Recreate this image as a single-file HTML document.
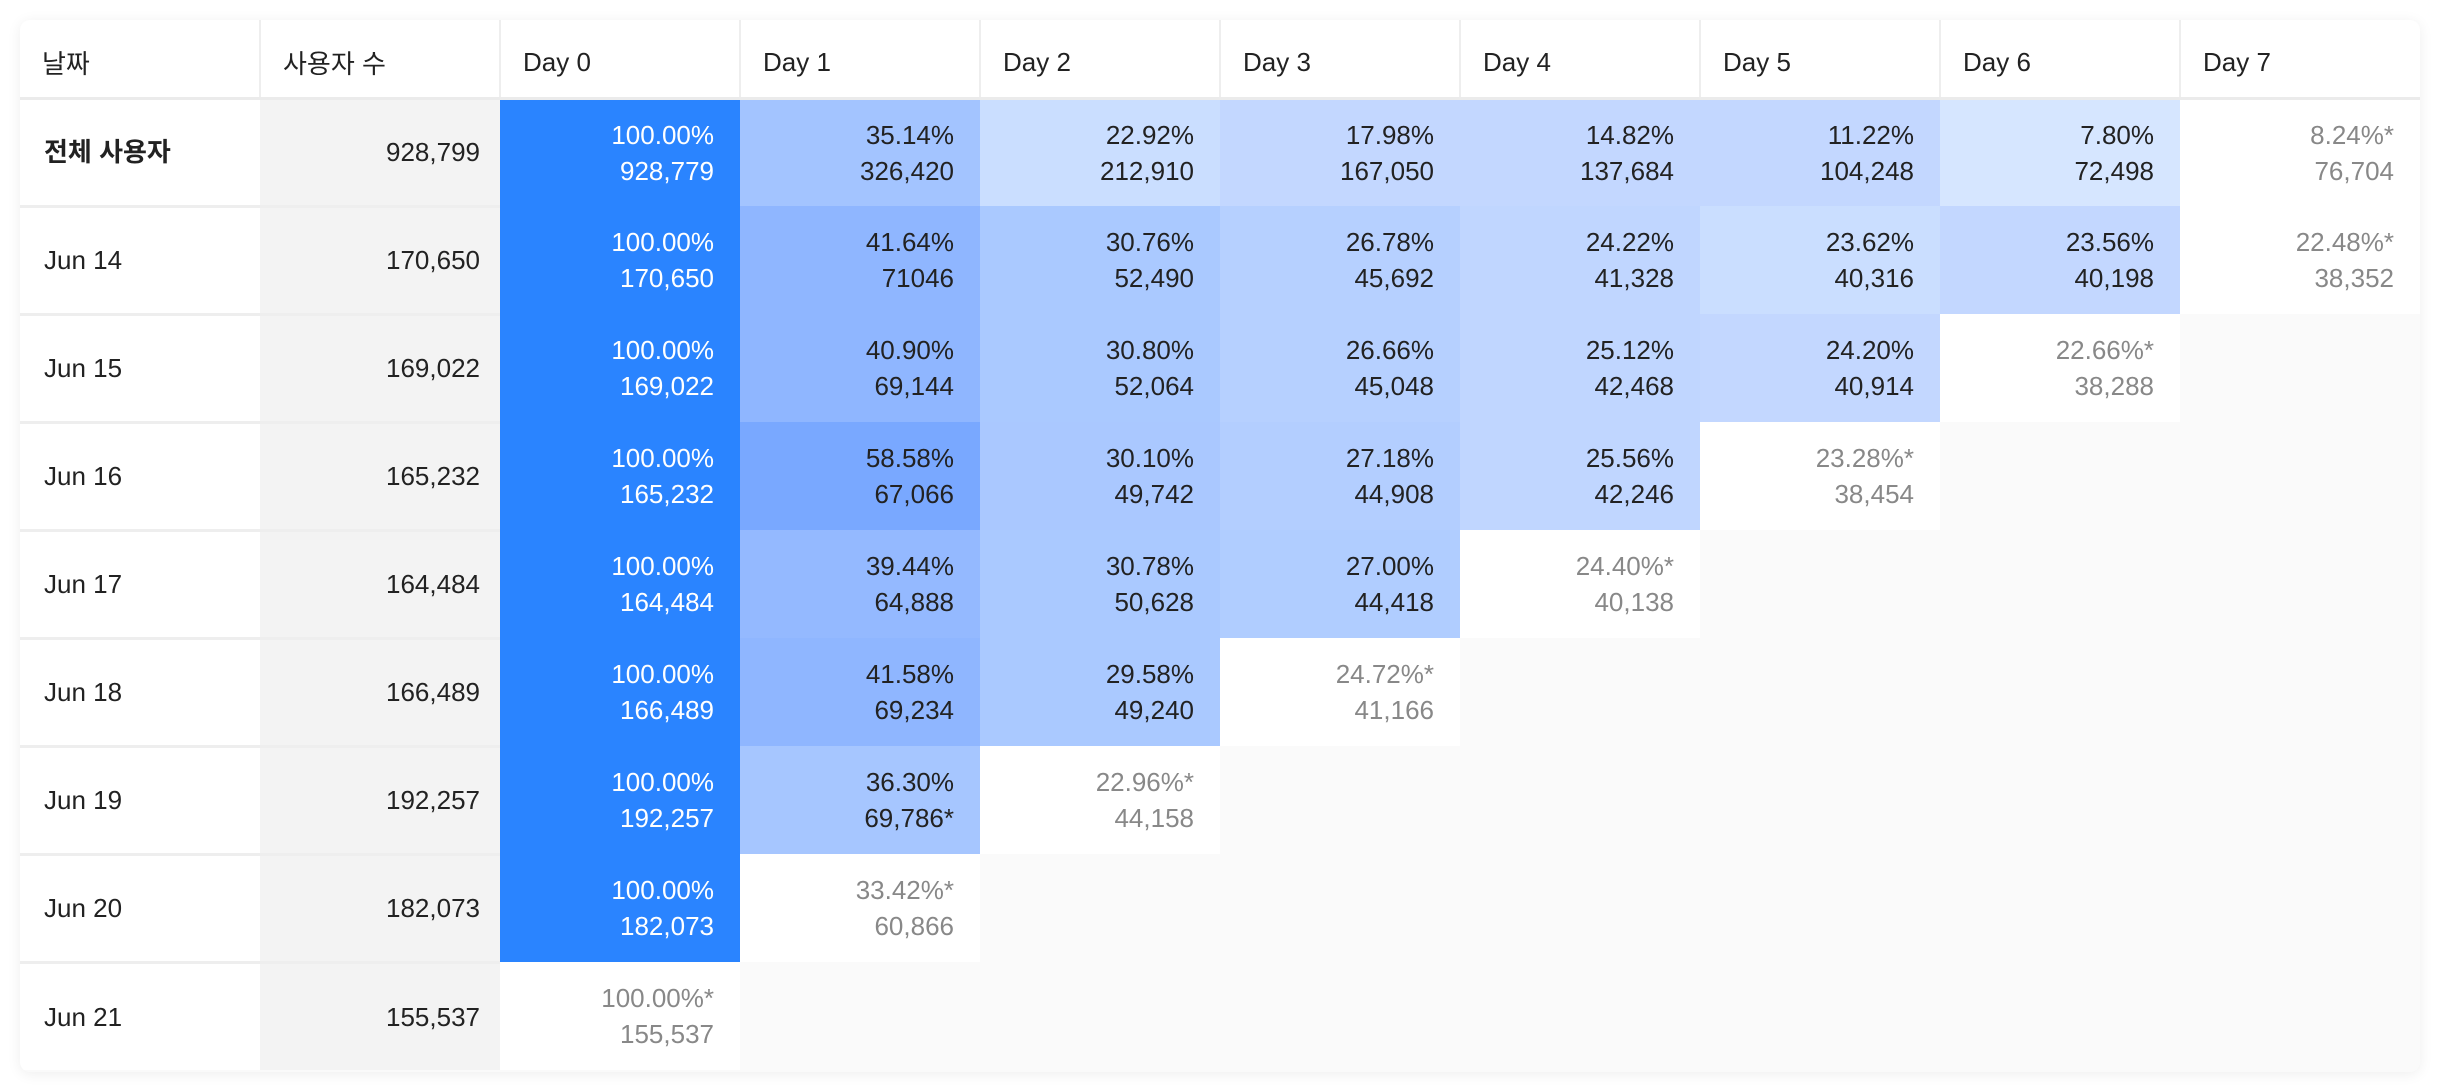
<!DOCTYPE html>
<html><head><meta charset="utf-8"><style>
html,body{margin:0;padding:0;background:#fff;width:2440px;height:1092px;overflow:hidden}
.card{position:absolute;left:20px;top:20px;width:2400px;height:1052px;background:#fafafa;border-radius:10px;box-shadow:0 2px 14px rgba(0,0,0,0.07);overflow:hidden}
table{border-collapse:collapse;table-layout:fixed;font-family:"Liberation Sans","Noto Sans CJK KR",sans-serif;font-size:26px;color:#222}
td,th{width:240px;padding:0;box-sizing:border-box}
th{height:78px;background:#fff;text-align:left;font-weight:normal;padding-left:22px;padding-top:8px;border-right:2px solid #eee;border-bottom:3px solid #ebebeb}
th:last-child{border-right:none}
tr.r td{height:108px}
td{text-align:right;padding-right:26px;line-height:36px}
td.d{text-align:left;padding-left:24px;background:#fff;border-bottom:3px solid #eee}
td.n{background:#f3f3f3;border-bottom:3px solid #eee;padding-right:20px}
td.b{font-weight:bold}
td.z{background:#2a84ff;color:#fff}
td.w{background:#fff;color:#888}
td.e{background:#fafafa}
</style></head><body><div class="card"><table>
<tr><th>날짜</th><th>사용자 수</th><th>Day 0</th><th>Day 1</th><th>Day 2</th><th>Day 3</th><th>Day 4</th><th>Day 5</th><th>Day 6</th><th>Day 7</th></tr>
<tr class="r"><td class="d b">전체 사용자</td><td class="n">928,799</td><td class="z">100.00%<br>928,779</td><td style="background:#a3c4ff">35.14%<br>326,420</td><td style="background:#cadeff">22.92%<br>212,910</td><td style="background:#c3d7ff">17.98%<br>167,050</td><td style="background:#c3d7ff">14.82%<br>137,684</td><td style="background:#c3d7ff">11.22%<br>104,248</td><td style="background:#d6e6ff">7.80%<br>72,498</td><td class="w">8.24%*<br>76,704</td></tr>
<tr class="r"><td class="d">Jun 14</td><td class="n">170,650</td><td class="z">100.00%<br>170,650</td><td style="background:#8fb6ff">41.64%<br>71046</td><td style="background:#aac9ff">30.76%<br>52,490</td><td style="background:#b6d0ff">26.78%<br>45,692</td><td style="background:#c0d6ff">24.22%<br>41,328</td><td style="background:#cadeff">23.62%<br>40,316</td><td style="background:#c3d7ff">23.56%<br>40,198</td><td class="w">22.48%*<br>38,352</td></tr>
<tr class="r"><td class="d">Jun 15</td><td class="n">169,022</td><td class="z">100.00%<br>169,022</td><td style="background:#8fb6ff">40.90%<br>69,144</td><td style="background:#aac9ff">30.80%<br>52,064</td><td style="background:#b6d0ff">26.66%<br>45,048</td><td style="background:#c0d6ff">25.12%<br>42,468</td><td style="background:#c3d7ff">24.20%<br>40,914</td><td class="w">22.66%*<br>38,288</td><td class="e"></td></tr>
<tr class="r"><td class="d">Jun 16</td><td class="n">165,232</td><td class="z">100.00%<br>165,232</td><td style="background:#79a8ff">58.58%<br>67,066</td><td style="background:#aac8ff">30.10%<br>49,742</td><td style="background:#b3ceff">27.18%<br>44,908</td><td style="background:#c0d6ff">25.56%<br>42,246</td><td class="w">23.28%*<br>38,454</td><td class="e"></td><td class="e"></td></tr>
<tr class="r"><td class="d">Jun 17</td><td class="n">164,484</td><td class="z">100.00%<br>164,484</td><td style="background:#94b9ff">39.44%<br>64,888</td><td style="background:#aac9ff">30.78%<br>50,628</td><td style="background:#b0cdff">27.00%<br>44,418</td><td class="w">24.40%*<br>40,138</td><td class="e"></td><td class="e"></td><td class="e"></td></tr>
<tr class="r"><td class="d">Jun 18</td><td class="n">166,489</td><td class="z">100.00%<br>166,489</td><td style="background:#8fb6ff">41.58%<br>69,234</td><td style="background:#aac9ff">29.58%<br>49,240</td><td class="w">24.72%*<br>41,166</td><td class="e"></td><td class="e"></td><td class="e"></td><td class="e"></td></tr>
<tr class="r"><td class="d">Jun 19</td><td class="n">192,257</td><td class="z">100.00%<br>192,257</td><td style="background:#a6c6ff">36.30%<br>69,786*</td><td class="w">22.96%*<br>44,158</td><td class="e"></td><td class="e"></td><td class="e"></td><td class="e"></td><td class="e"></td></tr>
<tr class="r"><td class="d">Jun 20</td><td class="n">182,073</td><td class="z">100.00%<br>182,073</td><td class="w">33.42%*<br>60,866</td><td class="e"></td><td class="e"></td><td class="e"></td><td class="e"></td><td class="e"></td><td class="e"></td></tr>
<tr class="r"><td class="d" style="border-bottom:none">Jun 21</td><td class="n" style="border-bottom:none">155,537</td><td class="w">100.00%*<br>155,537</td><td class="e"></td><td class="e"></td><td class="e"></td><td class="e"></td><td class="e"></td><td class="e"></td><td class="e"></td></tr>
</table></div></body></html>
